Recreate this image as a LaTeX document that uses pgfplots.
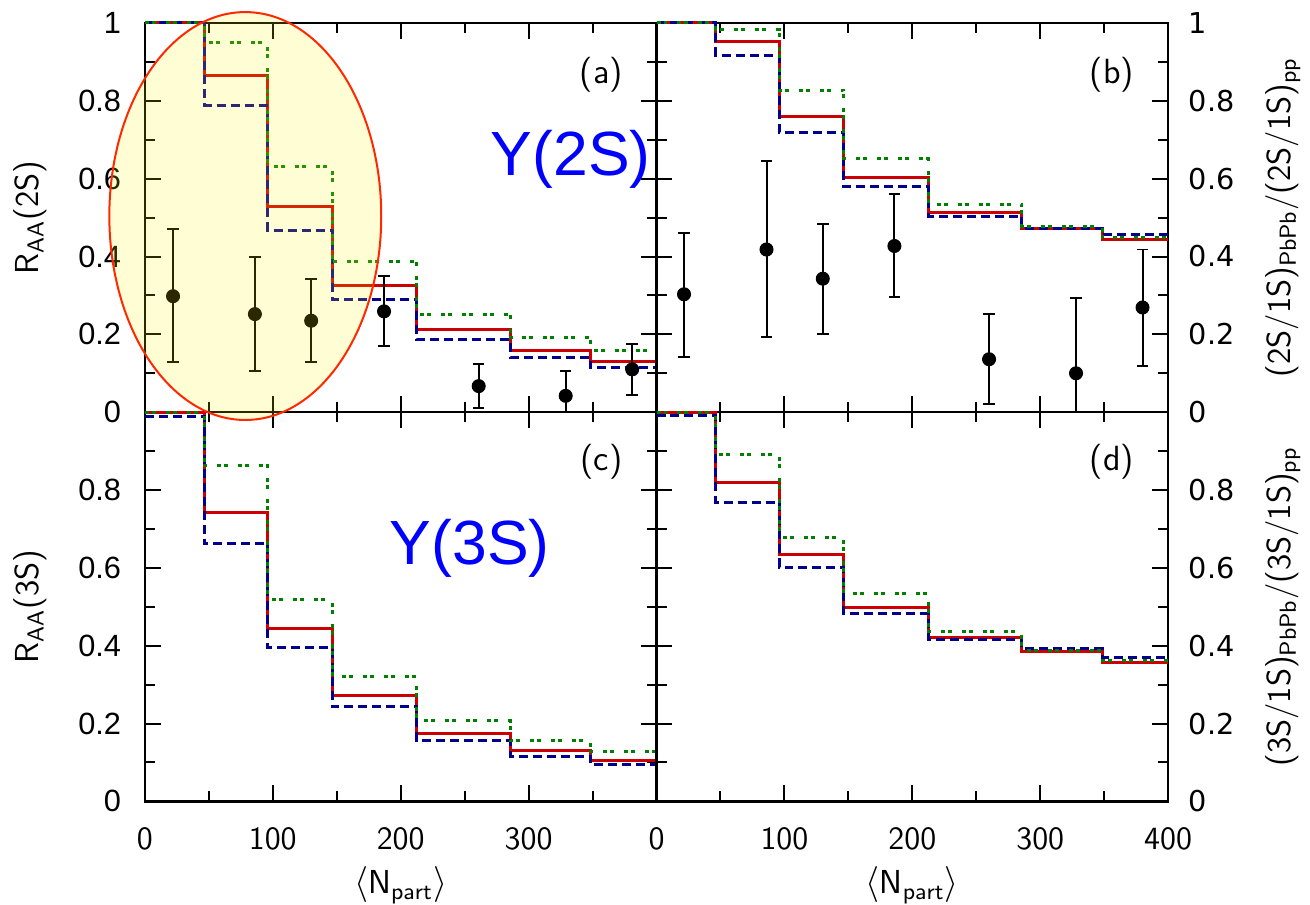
\documentclass[border=0pt]{standalone}
\usepackage{pgfplots}
\pgfplotsset{compat=1.18}
\usetikzlibrary{calc}
\usepackage{fontspec}
\newfontfamily\arial{Liberation Sans}
\newfontfamily\dejavu{DejaVu Sans}

\definecolor{cRed}{RGB}{204,0,0}
\definecolor{cGreen}{RGB}{0,128,0}
\definecolor{cBlue}{RGB}{0,0,140}
\definecolor{cEll}{RGB}{255,40,0}

\pgfplotsset{
  panel/.style={
    scale only axis, width=204.8pt, height=155.8pt,
    xmin=0, xmax=400, ymin=0, ymax=1,
    xtick={0,100,200,300,400}, ytick={0,0.2,0.4,0.6,0.8,1},
    minor x tick num=1, minor y tick num=1,
    major tick length=6.4pt, minor tick length=4pt,
    tick style={black, line width=0.8pt},
    axis line style={line width=1pt},
    clip=false,
    /pgf/number format/assume math mode=true,
    xticklabel style={font=\sffamily\fontsize{13}{15}\selectfont, yshift=-6.8pt},
  },
  leftlab/.style={yticklabel style={font=\arial\fontsize{12.3}{14}\selectfont, xshift=-6pt}},
  rightlab/.style={yticklabel pos=right,
    yticklabel style={font=\dejavu\fontsize{11.5}{14}\selectfont, xshift=4.8pt}},
  mred/.style={const plot, no marks, cRed, line width=1.2pt},
  mblue/.style={const plot, no marks, cBlue, line width=1.2pt, dash pattern=on 3.6pt off 2pt},
  mgreen/.style={const plot, no marks, cGreen, line width=1.2pt,
    dash pattern=on 1.6pt off 1.2pt on 1.6pt off 4pt},
  data/.style={only marks, mark=*, mark size=2.6pt, black,
    error bars/.cd, y dir=both, y explicit,
    error bar style={line width=0.8pt, black},
    error mark options={rotate=90, mark size=2.3pt, line width=0.8pt, black}},
}

\newcommand{\lab}{\sffamily\fontsize{13.3}{16}\selectfont}
\newcommand{\paneltag}{\sffamily\fontsize{14}{16}\selectfont}

\begin{document}
\begin{tikzpicture}
\useasboundingbox (-58pt,-41.4pt) rectangle (466.4pt,320.8pt);

% (a) R_AA of the 2S state
\begin{axis}[panel, leftlab, at={(0pt,155.8pt)}, anchor=south west, xticklabels={}]
  \addplot[mred] coordinates {(0,1)(46.5,0.865)(96,0.529)(146.5,0.325)(212.5,0.212)(285.5,0.159)(348.5,0.130)(400,0.130)};
  \addplot[mblue] coordinates {(0,1)(46.5,0.789)(96,0.468)(146.5,0.289)(212.5,0.187)(285.5,0.140)(348.5,0.114)(400,0.114)};
  \addplot[mgreen] coordinates {(0,1)(46.5,0.950)(96,0.631)(146.5,0.387)(212.5,0.252)(285.5,0.191)(348.5,0.159)(400,0.159)};
  \addplot[data] table[x=x, y=y, y error plus=ep, y error minus=em] {
    x   y     ep    em
    22  0.298 0.172 0.168
    86  0.252 0.148 0.147
    130 0.235 0.106 0.105
    187 0.259 0.091 0.089
    261 0.067 0.057 0.057
    329 0.042 0.063 0.042
    381 0.110 0.064 0.065
  };
  \node[font=\paneltag] at (axis cs:357,0.866) {(a)};
  \node[blue, font=\arial\fontsize{25}{30}\selectfont] at (axis cs:333,0.650) {Υ(2S)};
  \node[rotate=90, font=\lab] at (rel axis cs:-0.2246,0.5) {R$_{\mathsf{AA}}$(2S)};
  % highlight region: centre and the ends of its two semi-axes
  \coordinate (ellC) at (axis cs:78.5,0.504);
  \coordinate (ellX) at (axis cs:184.8,0.504);
  \coordinate (ellY) at (axis cs:78.5,1.028);
\end{axis}

% (b) double ratio 2S/1S
\begin{axis}[panel, rightlab, at={(204.8pt,155.8pt)}, anchor=south west, xticklabels={}]
  \addplot[mred] coordinates {(0,1)(46.5,0.952)(96,0.759)(146.5,0.603)(212.5,0.513)(285.5,0.471)(348.5,0.444)(400,0.444)};
  \addplot[mblue] coordinates {(0,1)(46.5,0.917)(96,0.718)(146.5,0.579)(212.5,0.504)(285.5,0.473)(348.5,0.457)(400,0.457)};
  \addplot[mgreen] coordinates {(0,1)(46.5,0.983)(96,0.827)(146.5,0.651)(212.5,0.534)(285.5,0.478)(348.5,0.448)(400,0.448)};
  \addplot[data] table[x=x, y=y, y error plus=ep, y error minus=em] {
    x    y     ep    em
    21.5 0.303 0.158 0.160
    86   0.418 0.227 0.225
    130  0.343 0.141 0.142
    186  0.427 0.133 0.131
    260  0.136 0.116 0.115
    328  0.100 0.194 0.100
    380  0.269 0.149 0.150
  };
  \node[font=\paneltag] at (axis cs:356,0.866) {(b)};
  \node[rotate=90, font=\lab] at (rel axis cs:1.2246,0.5) {(2S/1S)$_{\mathsf{PbPb}}$/(2S/1S)$_{\mathsf{pp}}$};
\end{axis}

% (c) R_AA of the 3S state
\begin{axis}[panel, leftlab, at={(0pt,0pt)}, anchor=south west,
    xticklabels={0,100,200,300,{}}, yticklabels={0,0.2,0.4,0.6,0.8,{}}]
  \addplot[mred] coordinates {(0,1)(46.5,0.743)(96,0.443)(146.5,0.271)(212.5,0.175)(285.5,0.131)(348.5,0.106)(400,0.106)};
  \addplot[mblue] coordinates {(0,0.989)(46.5,0.662)(96,0.395)(146.5,0.243)(212.5,0.156)(285.5,0.116)(348.5,0.095)(400,0.095)};
  \addplot[mgreen] coordinates {(0,1)(46.5,0.862)(96,0.518)(146.5,0.320)(212.5,0.207)(285.5,0.156)(348.5,0.129)(400,0.129)};
  \node[font=\paneltag] at (axis cs:357,0.872) {(c)};
  \node[blue, font=\arial\fontsize{25}{30}\selectfont] at (axis cs:254,0.651) {Υ(3S)};
  \node[rotate=90, font=\lab] at (rel axis cs:-0.2246,0.5) {R$_{\mathsf{AA}}$(3S)};
  \node[font=\lab] at (rel axis cs:0.5,-0.215) {$\big\langle$N$_{\mathsf{part}}$$\big\rangle$};
\end{axis}

% (d) double ratio 3S/1S
\begin{axis}[panel, rightlab, at={(204.8pt,0pt)}, anchor=south west,
    yticklabels={0,0.2,0.4,0.6,0.8,{}}]
  \addplot[mred] coordinates {(0,1)(46.5,0.819)(96,0.635)(146.5,0.499)(212.5,0.420)(285.5,0.384)(348.5,0.357)(400,0.357)};
  \addplot[mblue] coordinates {(0,0.992)(46.5,0.769)(96,0.602)(146.5,0.482)(212.5,0.417)(285.5,0.392)(348.5,0.371)(400,0.371)};
  \addplot[mgreen] coordinates {(0,1)(46.5,0.892)(96,0.678)(146.5,0.535)(212.5,0.437)(285.5,0.388)(348.5,0.362)(400,0.362)};
  \node[font=\paneltag] at (axis cs:356,0.872) {(d)};
  \node[rotate=90, font=\lab] at (rel axis cs:1.2246,0.5) {(3S/1S)$_{\mathsf{PbPb}}$/(3S/1S)$_{\mathsf{pp}}$};
  \node[font=\lab] at (rel axis cs:0.5,-0.215) {$\big\langle$N$_{\mathsf{part}}$$\big\rangle$};
\end{axis}

% translucent highlight over the low-N_part points of panel (a)
\draw[cEll, line width=0.8pt, fill=yellow, fill opacity=0.17]
  let \p1=(ellC), \p2=(ellX), \p3=(ellY) in
  (ellC) ellipse [x radius={\x2-\x1}, y radius={\y3-\y1}];
\end{tikzpicture}
\end{document}
